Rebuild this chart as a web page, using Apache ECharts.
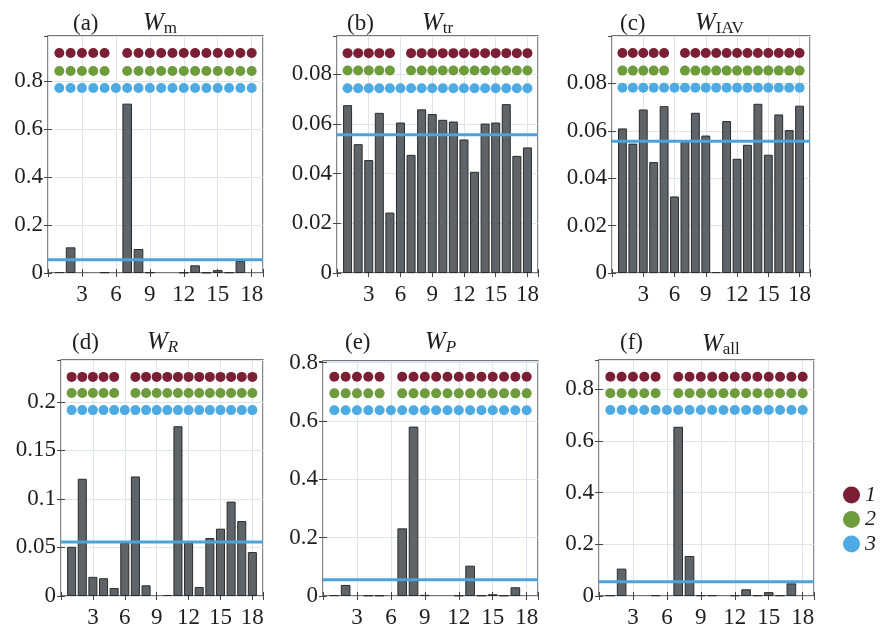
<!DOCTYPE html>
<html><head><meta charset="utf-8">
<script src="https://cdn.jsdelivr.net/npm/echarts@6/dist/echarts.min.js"></script>
<style>html,body{margin:0;padding:0;background:#fff}#c{width:886px;height:632px}</style>
</head><body><div id="c"></div>
<script>
// ---------- data ----------
const barIndex = [1,2,3,4,5,6,7,8,9,10,11,12,13,14,15,16,17,18];
const xTickLabels = [3,6,9,12,15,18];
const panelTags = ['(a)','(b)','(c)','(d)','(e)','(f)'];
const panelSubs = ['m','tr','IAV','R','P','all'];
const subItalic = [false,false,false,true,true,false];

const wM   = [0.004,0.107,0,0,0.003,0,0.706,0.100,0.003,0,0,0.002,0.032,0.002,0.012,0.003,0.050,0];
const wTr  = [0.0675,0.0518,0.0454,0.0644,0.0243,0.0605,0.0475,0.0658,0.0639,0.0616,0.0609,0.0537,0.0407,0.0601,0.0605,0.0679,0.0471,0.0505];
const wIAV = [0.0610,0.0546,0.0690,0.0468,0.0704,0.0323,0.0554,0.0676,0.0580,0.0004,0.0641,0.0482,0.0541,0.0714,0.0499,0.0669,0.0603,0.0706];
const wR   = [0.0507,0.1207,0.0197,0.0183,0.0083,0.0548,0.1231,0.0110,0,0.0010,0.1748,0.0548,0.0093,0.0597,0.0693,0.0972,0.0772,0.0452];
const wP   = [0.003,0.038,0,0.002,0.002,0,0.232,0.581,0.004,0,0,0.002,0.104,0.002,0.006,0.002,0.030,0];
const wAll = [0.003,0.106,0,0,0.003,0,0.655,0.155,0.003,0.003,0,0.003,0.026,0.003,0.015,0.003,0.049,0];
const panelValues = [wM, wTr, wIAV, wR, wP, wAll];

const yMaxes    = [0.988, 0.0953, 0.100, 0.243, 0.806, 0.9135];
const yIntervals = [0.2, 0.02, 0.02, 0.05, 0.2, 0.2];

const row1Index = [1,2,3,4,5,7,8,9,10,11,12,13,14,15,16,17,18];
const row2Index = [1,2,3,4,5,7,8,9,10,11,12,13,14,15,16,17,18];
const row3Index = [1,2,3,4,5,6,7,8,9,10,11,12,13,14,15,16,17,18];
const row1Level = [0.917, 0.0884, 0.0928, 0.2256, 0.752, 0.849];
const row2Level = [0.842, 0.0814, 0.0854, 0.2091, 0.695, 0.785];
const row3Level = [0.771, 0.0743, 0.0782, 0.1914, 0.637, 0.720];
const uniformWeight = 0.0556;
const legendNames = ['1','2','3'];

// ---------- style / layout ----------
const serif = 'Liberation Serif';
const rowColors = ['#7b1f35', '#6e9c3d', '#4eaae2'];
const grids = [
  {left:48,  top:36,  width:215, height:237},
  {left:337, top:36,  width:201, height:237},
  {left:612, top:36,  width:198, height:237},
  {left:61,  top:360, width:202, height:236},
  {left:323, top:361, width:215, height:235},
  {left:599, top:360, width:215, height:236}
];
const tagPos = [[73,12],[347,12],[620,12],[72,331],[345,331],[620,331]];
const wPos   = [[143,9],[422,9],[695,9],[147,328],[425,328],[702,330]];

const gridOpt = [], xAxes = [], yAxes = [], series = [], titles = [];
const tickStyle = {show:true, inside:true, length:4, lineStyle:{color:'#444', width:1}};

grids.forEach((g, i) => {
  gridOpt.push(Object.assign({show:true, borderColor:'#4a4a4a', borderWidth:1.3, backgroundColor:'#fff', containLabel:false}, g));
  const xBase = {type:'value', gridIndex:i, min:0, max:19, interval:3,
    axisLine:{show:false}, splitLine:{show:false}, axisTick:tickStyle};
  xAxes.push(Object.assign({}, xBase, {position:'bottom',
    splitLine:{show:true, lineStyle:{color:'#dfe3eb', width:1}},
    axisLabel:{show:true, margin:10, color:'#1e1e1e', fontFamily:serif, fontSize:23,
      formatter: v => xTickLabels.includes(v) ? String(v) : ''}}));
  xAxes.push(Object.assign({}, xBase, {position:'top', axisLabel:{show:false}}));
  const yBase = {type:'value', gridIndex:i, min:0, max:yMaxes[i], interval:yIntervals[i],
    axisLine:{show:false}, splitLine:{show:false}, axisTick:tickStyle};
  yAxes.push(Object.assign({}, yBase, {position:'left',
    splitLine:{show:true, lineStyle:{color:'#dfe3eb', width:1}},
    axisLabel:{show:true, margin:5, color:'#1e1e1e', fontFamily:serif, fontSize:23, showMaxLabel:false}}));
  yAxes.push(Object.assign({}, yBase, {position:'right', axisLabel:{show:false}}));

  const xi = 2*i, yi = 2*i;
  series.push({type:'bar', xAxisIndex:xi, yAxisIndex:yi, barWidth:'85%', z:2,
    data: barIndex.map((x, k) => panelValues[i][k] === 0
      ? {value:[x, 0], itemStyle:{borderWidth:0}}
      : [x, panelValues[i][k]]),
    itemStyle:{color:'#5f6469', borderColor:'#2b2b2b', borderWidth:1}, silent:true});
  series.push({type:'line', xAxisIndex:xi, yAxisIndex:yi, z:5, symbol:'none', silent:true,
    data:[[0, uniformWeight],[19, uniformWeight]], lineStyle:{color:'#4aa3dc', width:3}});
  [[row1Index,row1Level],[row2Index,row2Level],[row3Index,row3Level]].forEach((r, k) => {
    series.push({type:'scatter', name:legendNames[k], xAxisIndex:xi, yAxisIndex:yi, z:4,
      symbolSize:10, silent:true, itemStyle:{color:rowColors[k], opacity:1},
      data: r[0].map(x => [x, r[1][i]])});
  });

  titles.push({text:panelTags[i], left:tagPos[i][0], top:tagPos[i][1], padding:0,
    textStyle:{fontFamily:serif, fontSize:23, fontWeight:'normal', color:'#1e1e1e'}});
  titles.push({text:'{w|W}{s|' + panelSubs[i] + '}', left:wPos[i][0], top:wPos[i][1], padding:0,
    textStyle:{fontWeight:'normal', rich:{
      w:{fontFamily:serif, fontSize:25, fontStyle:'italic', fontWeight:'normal', color:'#1e1e1e', lineHeight:28, verticalAlign:'middle'},
      s:{fontFamily:serif, fontSize:17, fontStyle: subItalic[i] ? 'italic' : 'normal', fontWeight:'normal', color:'#1e1e1e', lineHeight:28, verticalAlign:'bottom'}
    }}});
});

const option = {
  animation:false,
  backgroundColor:'#fff',
  title: titles,
  grid: gridOpt,
  xAxis: xAxes,
  yAxis: yAxes,
  legend: {data:legendNames, orient:'vertical', left:843, top:484, icon:'circle',
    itemWidth:17, itemHeight:17, itemGap:2.5, selectedMode:false, padding:0,
    textStyle:{fontFamily:serif, fontSize:22, fontStyle:'italic', color:'#1e1e1e', padding:[0,0,0,0]}},
  series: series
};
const chart = echarts.init(document.getElementById('c'), null, {renderer:'canvas'});
chart.setOption(option);
</script>
</body></html>
